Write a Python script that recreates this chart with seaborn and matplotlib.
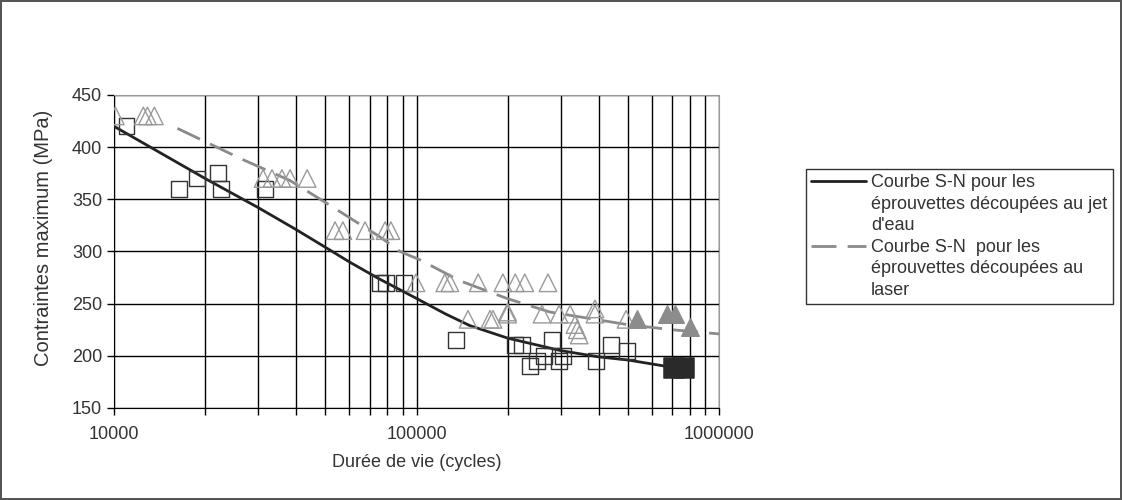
import numpy as np
import pandas as pd
import seaborn as sns
import matplotlib.pyplot as plt
from matplotlib.lines import Line2D
from matplotlib.ticker import FixedLocator, NullFormatter, FuncFormatter

# Water-jet specimens (open squares)
jet_cycles = [11000, 16400, 18800, 22000, 22600, 31600, 75700, 79300, 91000,
              135000, 212000, 223000, 237000, 250000, 264000, 280000, 296000,
              305000, 392000, 440000, 496000]
jet_stress = [420, 360, 370, 375, 360, 360, 270, 270, 270,
              215, 210, 210, 190, 195, 200, 215, 195,
              200, 195, 210, 205]
# run-outs (filled squares)
jet_runout_cycles = [710000, 766000]
jet_runout_stress = [188, 188]

# Laser specimens (open triangles)
laser_cycles = [10100, 12500, 12900, 13600, 31100, 33300, 35900, 38200, 43500,
                53800, 57100, 67600, 78700, 82300, 99600, 124000, 129000,
                148000, 160000, 175000, 179000, 193000, 200000, 200000, 212000,
                228000, 260000, 272000, 296000, 322000, 334000, 340000, 345000,
                389000, 389000, 493000]
laser_stress = [430, 430, 430, 430, 370, 370, 370, 370, 370,
                320, 320, 320, 320, 320, 270, 270, 270,
                235, 270, 235, 235, 270, 240, 242, 270,
                270, 240, 270, 240, 240, 230, 225, 220,
                245, 240, 235]
# run-outs (filled triangles)
laser_runout_cycles = [536000, 673000, 716000, 802000]
laser_runout_stress = [235, 240, 240, 228]

# S-N curves
jet_curve_n = [10000, 20000, 30000, 40000, 50000, 60000, 75000, 90000, 100000,
               125000, 150000, 200000, 300000, 400000, 500000, 700000]
jet_curve_s = [420, 370, 342, 321, 304, 290, 274, 262, 255,
               240, 229, 217, 205, 199, 196, 189]
laser_curve_n = [16200, 26700, 38200, 50000, 75700, 88200, 102700, 139000,
                 199000, 276000, 496000, 700000, 1000000]
laser_curve_s = [418, 388, 368, 347, 314, 300, 292, 272, 255, 242, 230, 225, 221]

lbl_jet = ["Courbe S-N pour les", "éprouvettes découpées au jet", "d'eau"]
lbl_laser = ["Courbe S-N  pour les", "éprouvettes découpées au", "laser"]

sns.set_style("white")
plt.rcParams['font.family'] = ['Liberation Sans', 'DejaVu Sans']
txt = '#333333'

fig = plt.figure(figsize=(11.22, 5), dpi=100)
fig.patch.set_edgecolor('#555555')
fig.patch.set_linewidth(1.5)
ax = fig.add_axes([114 / 1122, 1 - 408 / 500, 605 / 1122, 313 / 500])

sns.lineplot(x=jet_curve_n, y=jet_curve_s, ax=ax, color='#222222', lw=2,
             zorder=3)
sns.lineplot(x=laser_curve_n, y=laser_curve_s, ax=ax, color='#8a8a8a', lw=2,
             zorder=3)
ax.lines[1].set_dashes((9, 4))

sns.scatterplot(x=jet_cycles, y=jet_stress, ax=ax, marker='s', s=130,
                facecolor='none', edgecolor='#333333', linewidth=1, zorder=4)
sns.scatterplot(x=jet_runout_cycles, y=jet_runout_stress, ax=ax, marker='s',
                s=190, color='#2a2a2a', edgecolor='#2a2a2a', zorder=4)
sns.scatterplot(x=laser_cycles, y=laser_stress, ax=ax, marker='^', s=160,
                facecolor='none', edgecolor='#9a9a9a', linewidth=1, zorder=4)
sns.scatterplot(x=laser_runout_cycles, y=laser_runout_stress, ax=ax, marker='^',
                s=160, color='#8c8c8c', edgecolor='#8c8c8c', zorder=4)

ax.set_xscale('log')
ax.set_xlim(10000, 1000000)
ax.set_ylim(150, 450)
ax.set_yticks(range(150, 451, 50))
ax.xaxis.set_major_locator(FixedLocator([1e4, 1e5, 1e6]))
ax.xaxis.set_major_formatter(FuncFormatter(lambda v, p: f"{int(round(v))}"))
minor = [m * 10 ** k for k in (4, 5) for m in range(2, 10)]
ax.xaxis.set_minor_locator(FixedLocator(minor))
ax.xaxis.set_minor_formatter(NullFormatter())

ax.grid(True, which='both', axis='x', color='black', lw=1)
ax.grid(True, which='major', axis='y', color='black', lw=1)
ax.set_axisbelow(True)
for side in ['top', 'right']:
    ax.spines[side].set_color('#999999')
for side in ['left', 'bottom']:
    ax.spines[side].set_color('black')
ax.tick_params(axis='both', which='both', direction='out', length=5,
               width=1, color='black', labelcolor=txt, labelsize=13,
               bottom=True, left=True)
ax.tick_params(axis='x', which='major', pad=8)

ax.set_xlabel('Durée de vie (cycles)', fontsize=13, color=txt, labelpad=8)
ax.set_ylabel('Contraintes maximum (MPa)', fontsize=14.5, color=txt)
ax.yaxis.set_label_coords(-0.101, 0.543)

# legend: one row per text line, handle on the first line of each entry
blank = Line2D([], [], color='none')
handles = [ax.lines[0], blank, blank, ax.lines[1], blank, blank]
labels = lbl_jet + lbl_laser
leg = ax.legend(handles, labels, loc='upper left',
                bbox_to_anchor=(806 / 1122, 1 - 169 / 500),
                bbox_transform=fig.transFigure, borderaxespad=0, fontsize=13,
                frameon=True, fancybox=False, handlelength=3, handletextpad=0.3,
                labelspacing=0.25, borderpad=0.3)
leg.get_frame().set_edgecolor('black')
leg.get_frame().set_linewidth(1)
for t in leg.get_texts():
    t.set_color(txt)

fig.savefig('out.png', dpi=100, edgecolor=fig.get_edgecolor())
